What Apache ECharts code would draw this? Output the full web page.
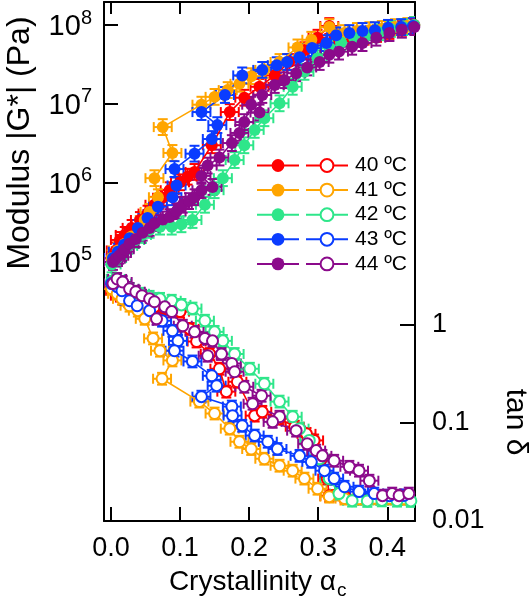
<!DOCTYPE html>
<html><head><meta charset="utf-8">
<script src="https://cdn.jsdelivr.net/npm/echarts@6/dist/echarts.min.js"></script>
<style>html,body{margin:0;padding:0;background:#fff}#c{width:529px;height:600px}</style>
</head><body><div id="c"></div>
<script>
// ---------- data ----------
const temps = ['40 ºC', '41 ºC', '42 ºC', '43 ºC', '44 ºC'];
const colors = ['#ff0000', '#ffa500', '#2ee68a', '#0a3cff', '#8b0a8b'];

const xTicks = [0, 0.1, 0.2, 0.3, 0.4];
const modTicks = [1e5, 1e6, 1e7, 1e8];
const tanTicks = [0.01, 0.1, 1];

// |G*| (Pa), filled symbols
const mod40x = [.001,.007,.013,.020,.030,.042,.053,.063,.074,.085,.100,.111,.121,.146,.172,.193,.215,.237,.258,.280,.299,.316,.330,.348,.367,.385,.403,.421,.439];
const mod40  = [1.12e5,1.4e5,1.9e5,2.2e5,2.7e5,3.4e5,4.1e5,5.3e5,6.5e5,8.1e5,1.02e6,1.2e6,1.38e6,3.0e6,7.9e6,1.2e7,1.65e7,2.3e7,3.4e7,4.8e7,6.9e7,9.7e7,6.5e7,6.9e7,7.1e7,7.7e7,8.4e7,9.2e7,1.0e8];
const mod41x = [.001,.010,.020,.030,.042,.049,.056,.068,.063,.089,.075,.131,.150,.169,.186,.203,.222,.244,.270,.290,.316,.338,.356,.374,.392,.411,.429];
const mod41  = [1.12e5,1.4e5,1.7e5,2.1e5,2.7e5,3.4e5,4.3e5,6.6e5,1.15e6,2.4e6,5.1e6,9.8e6,1.23e7,1.5e7,1.8e7,2.25e7,2.7e7,3.4e7,5.2e7,6.5e7,9.4e7,7.9e7,8.4e7,8.6e7,8.9e7,9.4e7,9.7e7];
const mod42x = [.001,.009,.016,.025,.035,.045,.056,.071,.088,.102,.118,.136,.150,.162,.179,.193,.208,.222,.244,.263,.280,.299,.316,.333,.352,.371,.388,.405,.423,.439];
const mod42  = [9.3e4,1.12e5,1.35e5,1.6e5,1.9e5,2.2e5,2.55e5,2.8e5,2.8e5,3.0e5,3.4e5,5.3e5,8.1e5,1.15e6,1.95e6,3.0e6,4.7e6,6.6e6,1.02e7,1.65e7,2.55e7,3.8e7,5.1e7,6.0e7,6.9e7,7.4e7,8.1e7,8.9e7,9.4e7,1.0e8];
const mod43x = [.003,.010,.019,.027,.039,.053,.068,.089,.095,.092,.121,.146,.154,.131,.165,.190,.219,.240,.255,.273,.291,.312,.326,.345,.364,.382,.401,.420,.437];
const mod43  = [1.12e5,1.35e5,1.65e5,2.0e5,2.7e5,3.6e5,5.0e5,6.6e5,9.3e5,1.5e6,2.35e6,3.6e6,5.4e6,7.9e6,1.3e7,2.3e7,2.7e7,3.1e7,3.4e7,3.9e7,5.1e7,5.9e7,7.4e7,7.9e7,8.4e7,8.6e7,9.2e7,9.4e7,9.7e7];
const mod44x = [.003,.007,.012,.016,.020,.027,.036,.046,.056,.063,.075,.085,.095,.104,.113,.121,.131,.147,.131,.140,.157,.175,.186,.193,.203,.215,.219,.237,.251,.268,.284,.302,.316,.330,.349,.364,.384,.403,.421,.439];
const mod44  = [1.0e5,1.1e5,1.2e5,1.3e5,1.45e5,1.7e5,1.95e5,2.35e5,2.7e5,3.1e5,3.45e5,3.7e5,4.4e5,5.3e5,5.9e5,6.6e5,8.1e5,8.9e5,1.23e6,1.66e6,2.1e6,3.2e6,4.3e6,5.9e6,9.8e6,7.8e6,1.3e7,1.74e7,2.0e7,2.45e7,2.9e7,3.4e7,4.2e7,4.6e7,5.3e7,5.9e7,6.9e7,7.9e7,8.7e7,9.4e7];

// tan δ, open symbols
const tan40x = [.001,.006,.013,.025,.035,.049,.063,.078,.100,.114,.124,.143,.157,.167,.183,.208,.219,.244,.266,.283,.294,.304,.313,.316,.338,.359,.381,.403,.424];
const tan40  = [2.6,2.2,1.96,1.74,1.63,1.63,1.51,1.45,1.35,0.90,0.67,0.50,0.354,0.207,0.261,0.118,0.129,0.110,0.091,0.077,0.066,0.043,0.027,0.018,0.0177,0.0175,0.018,0.0176,0.0178];
const tan41x = [.001,.009,.016,.027,.039,.049,.061,.071,.089,.074,.128,.150,.172,.186,.203,.222,.244,.263,.280,.299,.316,.338,.359,.381,.403,.424];
const tan41  = [2.3,2.05,1.82,1.55,1.38,1.14,0.72,0.54,0.43,0.28,0.164,0.124,0.087,0.064,0.054,0.043,0.0365,0.0325,0.027,0.0213,0.0177,0.0169,0.0168,0.017,0.0169,0.0168];
const tan42x = [.001,.007,.016,.027,.042,.056,.071,.088,.102,.118,.136,.150,.162,.179,.201,.222,.244,.263,.273,.287,.302,.316,.330,.349,.371,.392,.414,.434];
const tan42  = [2.7,2.9,2.6,2.3,2.05,1.91,1.82,1.74,1.58,1.45,1.09,0.84,0.68,0.50,0.354,0.249,0.164,0.115,0.087,0.066,0.043,0.027,0.019,0.0161,0.016,0.0162,0.0161,0.016];
const tan43x = [.001,.009,.016,.027,.038,.056,.074,.089,.097,.092,.118,.146,.153,.131,.175,.176,.190,.208,.227,.241,.273,.290,.309,.323,.338,.359,.381,.403,.424];
const tan43  = [2.6,2.42,2.2,1.74,1.55,1.38,1.09,0.86,0.68,0.54,0.42,0.30,0.238,0.184,0.146,0.118,0.093,0.074,0.064,0.054,0.046,0.040,0.0325,0.027,0.0223,0.0199,0.019,0.0181,0.0182];
const tan44x = [.003,.009,.017,.027,.036,.045,.056,.063,.078,.066,.088,.104,.121,.136,.147,.140,.160,.175,.179,.193,.218,.205,.244,.234,.268,.284,.297,.306,.323,.345,.359,.374,.393,.407,.417,.431];
const tan44  = [2.6,2.9,2.7,2.3,2.15,1.96,1.82,1.70,1.51,1.14,1.35,0.97,0.84,0.72,0.68,0.48,0.50,0.40,0.33,0.232,0.188,0.156,0.115,0.102,0.083,0.061,0.052,0.046,0.041,0.0356,0.0325,0.0257,0.0181,0.019,0.0181,0.019];

// error bars: x (crystallinity units), y (decades)
const xErr = 0.013;
const modErrDec = 0.1;
const tanErrDec = 0.06;

// ---------- chart ----------
const FONT = 'Liberation Sans, Arial, sans-serif';
const sets = [
  {name: temps[0], color: colors[0], mx: mod40x, my: mod40, tx: tan40x, ty: tan40},
  {name: temps[1], color: colors[1], mx: mod41x, my: mod41, tx: tan41x, ty: tan41},
  {name: temps[2], color: colors[2], mx: mod42x, my: mod42, tx: tan42x, ty: tan42},
  {name: temps[3], color: colors[3], mx: mod43x, my: mod43, tx: tan43x, ty: tan43},
  {name: temps[4], color: colors[4], mx: mod44x, my: mod44, tx: tan44x, ty: tan44}
];

function errSeries(data, yIdx, color, yDec) {
  return {
    type: 'custom', yAxisIndex: yIdx, silent: true, clip: true,
    encode: {x: 0, y: 1}, data: data,
    renderItem: function (params, api) {
      const x = api.value(0), y = api.value(1);
      const f = Math.pow(10, yDec);
      const l = api.coord([x - xErr, y]), r = api.coord([x + xErr, y]);
      const t = api.coord([x, y * f]), b = api.coord([x, y / f]);
      const cap = 5;
      const st = {stroke: color, lineWidth: 2, fill: null};
      const ln = (x1, y1, x2, y2) => ({type: 'line', shape: {x1, y1, x2, y2}, style: st});
      return {type: 'group', children: [
        ln(l[0], l[1], r[0], r[1]),
        ln(l[0], l[1] - cap, l[0], l[1] + cap),
        ln(r[0], r[1] - cap, r[0], r[1] + cap),
        ln(t[0], t[1], b[0], b[1]),
        ln(t[0] - cap, t[1], t[0] + cap, t[1]),
        ln(b[0] - cap, b[1], b[0] + cap, b[1])
      ]};
    }
  };
}

const series = [];
sets.forEach(s => {
  const md = s.mx.map((x, i) => [x, s.my[i]]);
  const td = s.tx.map((x, i) => [x, s.ty[i]]);
  series.push(errSeries(md, 0, s.color, modErrDec));
  series.push({
    type: 'line', name: 'G ' + s.name, yAxisIndex: 0, data: md,
    symbol: 'circle', symbolSize: 12, showAllSymbol: true,
    lineStyle: {color: s.color, width: 1.6}, itemStyle: {color: s.color}
  });
  series.push(errSeries(td, 1, s.color, tanErrDec));
  series.push({
    type: 'line', name: s.name, yAxisIndex: 1, data: td,
    symbol: 'emptyCircle', symbolSize: 11, showAllSymbol: true,
    lineStyle: {color: s.color, width: 1.6},
    itemStyle: {color: s.color, borderColor: s.color, borderWidth: 2}
  });
});

const axisLine = {show: true, onZero: false, lineStyle: {color: '#000', width: 2}};
const tickStyle = {color: '#000', width: 2};
const legendCommon = {
  orient: 'vertical', itemWidth: 42, itemHeight: 16, itemGap: 3.6, padding: 0,
  selectedMode: false, top: 155
};

const option = {
  animation: false,
  backgroundColor: '#fff',
  grid: {left: 104, right: 114, top: 2, bottom: 79, containLabel: false},
  xAxis: [
    {
      type: 'value', position: 'bottom', min: -0.01, max: 0.44,
      axisLine: axisLine,
      axisTick: {show: true, inside: true, length: 14, lineStyle: tickStyle, customValues: xTicks},
      axisLabel: {customValues: xTicks, formatter: v => v.toFixed(1), fontSize: 27, fontFamily: FONT, color: '#000', margin: 14},
      splitLine: {show: false}
    },
    {
      type: 'value', position: 'top', min: -0.01, max: 0.44,
      axisLine: axisLine,
      axisTick: {show: true, inside: true, length: 12, lineStyle: tickStyle, customValues: xTicks},
      axisLabel: {show: false},
      splitLine: {show: false}
    }
  ],
  yAxis: [
    {
      type: 'log', logBase: 10, position: 'left',
      min: Math.pow(10, 1.721), max: Math.pow(10, 8.291),
      axisLine: axisLine,
      axisTick: {show: true, inside: true, length: 14, lineStyle: tickStyle, customValues: modTicks},
      axisLabel: {
        customValues: modTicks, margin: 12,
        formatter: v => '{b|10}{s|' + Math.round(Math.log10(v)) + '}',
        rich: {
          b: {fontSize: 29, fontFamily: FONT, color: '#000', lineHeight: 34, verticalAlign: 'bottom'},
          s: {fontSize: 20, fontFamily: FONT, color: '#000', lineHeight: 20, verticalAlign: 'top'}
        }
      },
      splitLine: {show: false}
    },
    {
      type: 'log', logBase: 10, position: 'right',
      min: 0.01, max: Math.pow(10, 3.28),
      axisLine: axisLine,
      axisTick: {show: true, inside: true, length: 15, lineStyle: tickStyle, customValues: tanTicks},
      axisLabel: {
        customValues: tanTicks, margin: 17, showMinLabel: true,
        formatter: v => (v >= 0.99 ? '1' : (v >= 0.099 ? '0.1' : '0.01')),
        fontSize: 27, fontFamily: FONT, color: '#000'
      },
      splitLine: {show: false}
    }
  ],
  legend: [
    Object.assign({}, legendCommon, {
      left: 256, data: temps.map(t => 'G ' + t), formatter: n => n.slice(2),
      textStyle: {fontSize: 21, fontFamily: FONT, color: 'rgba(0,0,0,0)'}
    }),
    Object.assign({}, legendCommon, {
      left: 305, data: temps.slice(),
      textStyle: {fontSize: 21, fontFamily: FONT, color: '#000', padding: [0, 0, 0, 2]}
    })
  ],
  graphic: [
    {type: 'text', x: 20, y: 143, rotation: Math.PI / 2,
     style: {text: 'Modulus |G*| (Pa)', fontSize: 32, fontFamily: FONT, fill: '#000', align: 'center', verticalAlign: 'middle'}},
    {type: 'text', x: 515, y: 422, rotation: -Math.PI / 2,
     style: {text: 'tan δ', fontSize: 30, fontFamily: FONT, fill: '#000', align: 'center', verticalAlign: 'middle'}},
    {type: 'text', x: 336, y: 582,
     style: {text: 'Crystallinity α', fontSize: 28, fontFamily: FONT, fill: '#000', align: 'right', verticalAlign: 'middle'}},
    {type: 'text', x: 337, y: 591,
     style: {text: 'c', fontSize: 19, fontFamily: FONT, fill: '#000', align: 'left', verticalAlign: 'middle'}}
  ],
  series: series
};

const chart = echarts.init(document.getElementById('c'), null, {renderer: 'canvas'});
chart.setOption(option);
</script>
</body></html>
